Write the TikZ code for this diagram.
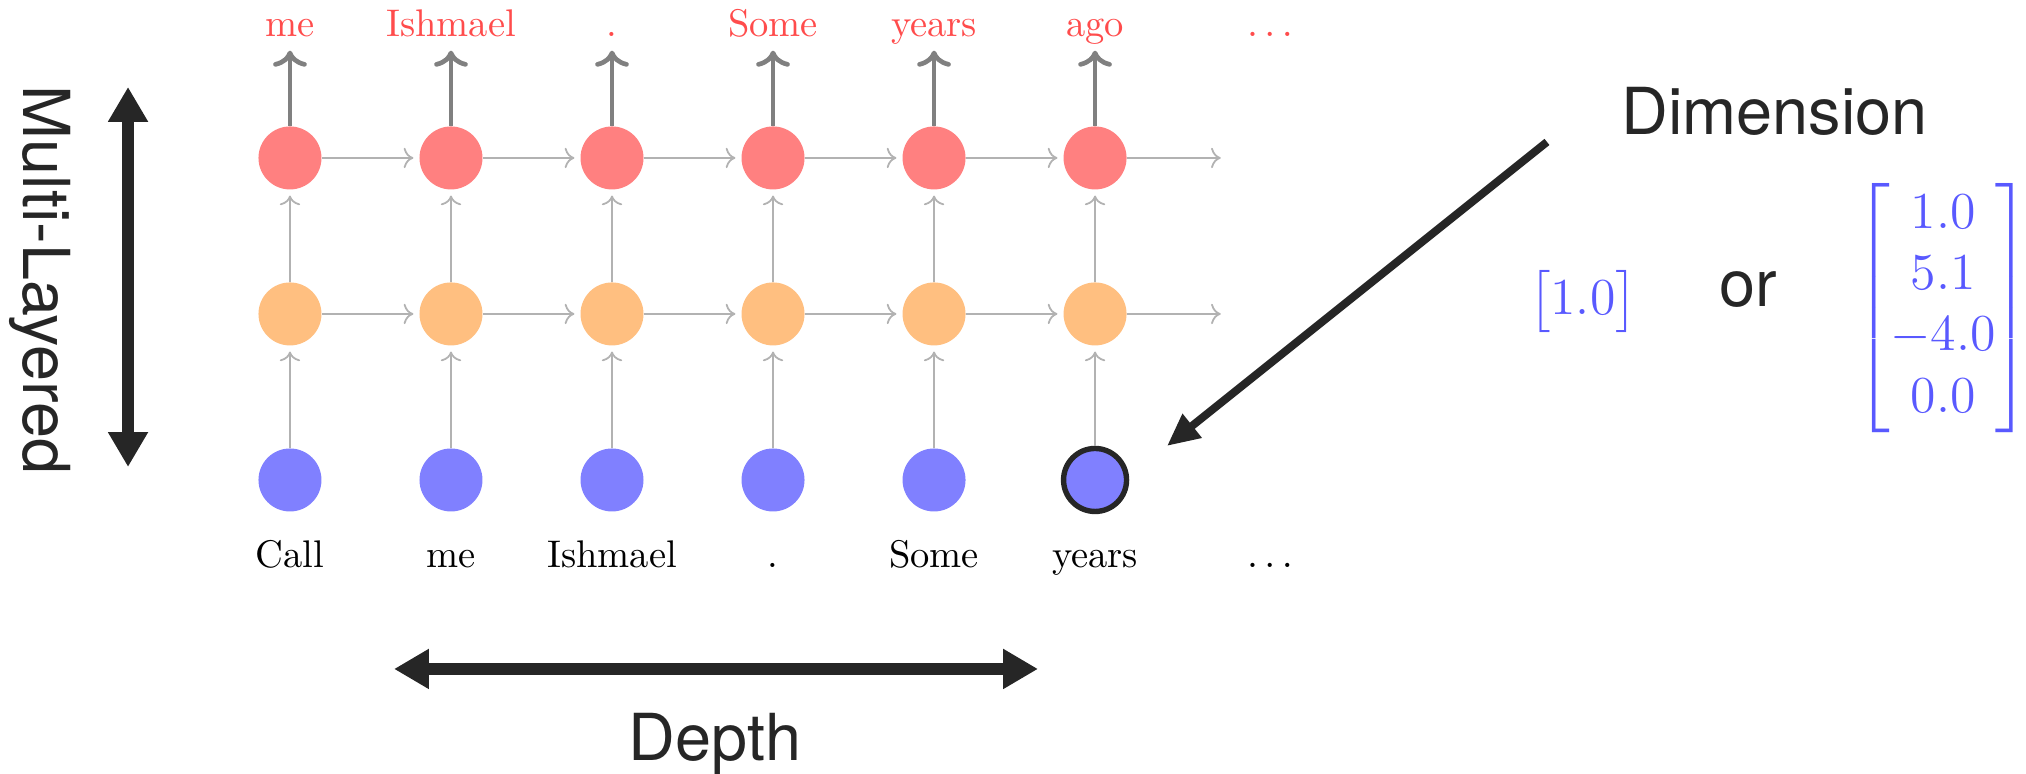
\documentclass[tikz,border=0pt]{standalone}
\usepackage{amsmath}
\usepackage{fontspec}
\newfontfamily\helv{TeX Gyre Heros}
\usetikzlibrary{arrows.meta}

\tikzset{
	unit/.style={circle,minimum size=17.5pt,inner sep=0pt},
	inp/.style={unit,fill=blue!50},
	hid/.style={unit,fill=orange!50},
	outp/.style={unit,fill=red!50},
	flow/.style={->,draw=gray!60,line width=0.5pt,shorten >=1.5pt},
	emit/.style={->,draw=gray,line width=1.3pt},
	word/.style={anchor=base,inner sep=3.6pt,text depth=0pt,font=\fontsize{10.7}{13}\selectfont},
	big/.style={font=\helv\fontsize{18}{21.6}\selectfont,text=black!85,inner sep=0pt},
	vec/.style={font=\fontsize{14.4}{17}\selectfont,text=blue!65,inner sep=0pt},
	fat/.style={<->,>={Triangle[width=10.5pt,length=9.7pt]},line width=3.3pt,draw=black!85},
	dimarrow/.style={->,>={Triangle[width=8pt,length=9pt]},line width=2.2pt,draw=black!85}
}

\begin{document}
\begin{tikzpicture}[node distance=1.572cm]
	\useasboundingbox (0,0) rectangle (19.78,-7.547);
	% units: inputs, hidden layer, outputs
	\node[inp] (x1) at (2.831,-4.686) {};
	\foreach \x/\y in {2/1,3/2,4/3,5/4}
		\node[inp,right of=x\y] (x\x) {};
	\node[inp,draw=black!85,line width=1.5pt,right of=x5] (x6) {};
	\node[hid,above of=x1,node distance=1.621cm] (h1) {};
	\node[outp,above of=h1,node distance=1.523cm] (r1) {};
	\foreach \x/\y in {2/1,3/2,4/3,5/4,6/5} {
		\node[hid,right of=h\y] (h\x) {};
		\node[outp,right of=r\y] (r\x) {};
	}
	\coordinate[right of=h6,node distance=1.28cm] (hend);
	\coordinate[right of=r6,node distance=1.28cm] (rend);
	\coordinate[right of=x6,node distance=1.74cm] (x7);
	\coordinate[right of=r6,node distance=1.74cm] (r7);
	% words
	\foreach \x/\w in {1/Call,2/me,3/Ishmael,4/.,5/Some,6/years,7/$\dots$}
		\node[below of=x\x,node distance=0.859cm,word] (in\x) {\w};
	\foreach \x/\w in {1/me,2/Ishmael,3/.,4/Some,5/years,6/ago,7/$\dots$}
		\node[above of=r\x,node distance=1.181cm,word,text=red!70] (out\x) {\w};
	% connections
	\foreach \x in {1,...,6} {
		\draw[flow] (x\x) -- (h\x);
		\draw[flow] (h\x) -- (r\x);
		\draw[emit] (r\x) -- (out\x);
	}
	\foreach \x/\y in {1/2,2/3,3/4,4/5,5/6} {
		\draw[flow] (h\x) -- (h\y);
		\draw[flow] (r\x) -- (r\y);
	}
	\draw[flow] (h6) -- (hend);
	\draw[flow] (r6) -- (rend);
	% axes
	\node[big,rotate=-90] (layers) at (0.391,-2.734) {Multi-Layered};
	\coordinate (ltop) at (1.25,-0.849);
	\coordinate (lbot) at (1.25,-4.559);
	\draw[fat] (ltop) -- (lbot);
	\coordinate (dleft) at (3.847,-6.531);
	\coordinate (dright) at (10.134,-6.531);
	\draw[fat] (dleft) -- (dright);
	\node[big,anchor=base] (depth) at (6.981,-7.42) {Depth};
	% vectors
	\node[big,anchor=base west] (dim) at (15.826,-1.318) {Dimension};
	\coordinate (dimtail) at (15.103,-1.386);
	\coordinate (dimtip) at (11.393,-4.354);
	\draw[dimarrow] (dimtail) -- (dimtip);
	\node[vec] (scalar) at (15.455,-2.948) {$\begin{bmatrix}1.0\end{bmatrix}$};
	\node[big,anchor=base] (or) at (17.066,-2.997) {or};
	\node[vec] (vector) at (18.97,-3.007) {$\begin{bmatrix}1.0\\5.1\\-4.0\\0.0\end{bmatrix}$};
\end{tikzpicture}
\end{document}
